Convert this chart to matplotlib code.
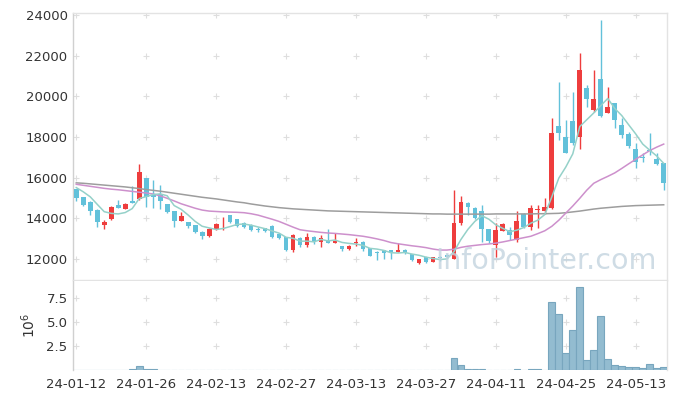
import numpy as np
import pandas as pd
import matplotlib
matplotlib.use("Agg")
import matplotlib.pyplot as plt

# trading days, 24-01-12 .. 24-05-20
dates = [
    "24-01-12",
    "24-01-15", "24-01-16", "24-01-17", "24-01-18", "24-01-19",
    "24-01-22", "24-01-23", "24-01-24", "24-01-25", "24-01-26",
    "24-01-29", "24-01-30", "24-01-31", "24-02-01", "24-02-02",
    "24-02-05", "24-02-06", "24-02-07", "24-02-08",
    "24-02-13", "24-02-14", "24-02-15", "24-02-16",
    "24-02-19", "24-02-20", "24-02-21", "24-02-22", "24-02-23",
    "24-02-26", "24-02-27", "24-02-28", "24-02-29",
    "24-03-04", "24-03-05", "24-03-06", "24-03-07", "24-03-08",
    "24-03-11", "24-03-12", "24-03-13", "24-03-14", "24-03-15",
    "24-03-18", "24-03-19", "24-03-20", "24-03-21", "24-03-22",
    "24-03-25", "24-03-26", "24-03-27", "24-03-28", "24-03-29",
    "24-04-01", "24-04-02", "24-04-03", "24-04-04", "24-04-05",
    "24-04-08", "24-04-09", "24-04-11", "24-04-12",
    "24-04-15", "24-04-16", "24-04-17", "24-04-18", "24-04-19",
    "24-04-22", "24-04-23", "24-04-24", "24-04-25", "24-04-26",
    "24-04-29", "24-04-30", "24-05-02", "24-05-03",
    "24-05-07", "24-05-08", "24-05-09", "24-05-10",
    "24-05-13", "24-05-14", "24-05-16", "24-05-17", "24-05-20",
]

opens = [15420, 15020, 14820, 14400, 13640, 13950, 14650, 14460, 14870, 14930,
         15990, 15150, 15180, 14700, 14330, 13870, 13800, 13670, 13340, 13100,
         13460, 13840, 14160, 13970, 13750, 13670, 13480, 13520, 13620, 13230,
         13070, 12410, 13000, 12660, 13070, 12850, 12930, 12800, 12640, 12480,
         12770, 12850, 12520, 12330, 12440, 12440, 12330, 12440, 12250, 11790,
         12080, 11850, 12080, 12200, 12000, 13750, 14770, 14490, 14330, 13475,
         12690, 13390, 13430, 12930, 14210, 13560, 14380, 14330, 14490, 18540,
         18020, 18800, 18020, 20390, 19330, 20840, 19200, 19660, 18590, 18150,
         17390, 17000, 17360, 16900, 16700]
highs = [15450, 15050, 14850, 14450, 13920, 14600, 14900, 14740, 15600, 16660,
         16000, 15880, 15640, 14720, 14330, 14300, 13810, 13680, 13350, 13510,
         13750, 14080, 14170, 13980, 13800, 13700, 13560, 13540, 13650, 13260,
         13080, 13230, 13070, 13260, 13130, 13180, 13460, 13280, 12650, 12690,
         13020, 12900, 12530, 12360, 12440, 12450, 12770, 12460, 12260, 12000,
         12100, 12090, 12150, 12230, 15390, 15070, 14800, 14560, 14660, 13480,
         13750, 13750, 13590, 14330, 14250, 14660, 14660, 14980, 18920, 20720,
         18840, 20230, 22120, 20560, 21300, 23750, 20480, 19660, 18920, 18260,
         17720, 17200, 18180, 17200, 16720]
lows = [14850, 14580, 14160, 13590, 13480, 13920, 14490, 14430, 14740, 14900,
        14570, 14520, 14460, 14280, 13560, 13860, 13540, 13290, 12980, 13050,
        13430, 13430, 13760, 13560, 13500, 13380, 13330, 13300, 13000, 12990,
        12360, 12310, 12600, 12600, 12740, 12600, 12780, 12790, 12360, 12430,
        12610, 12360, 12130, 11950, 11990, 11990, 12320, 12260, 11900, 11760,
        11800, 11840, 11900, 12050, 11980, 13670, 14160, 13950, 12850, 12770,
        12080, 13350, 12930, 12850, 13500, 13430, 13500, 14210, 14440, 17850,
        17200, 17600, 17390, 19490, 19250, 19000, 19160, 18430, 17930, 17440,
        16460, 16790, 17100, 16620, 15390]
closes = [14980, 14660, 14360, 13800, 13800, 14570, 14520, 14700, 14770, 16280,
          15050, 15020, 14870, 14300, 13870, 14115, 13620, 13310, 13100, 13460,
          13720, 13870, 13790, 13620, 13560, 13430, 13440, 13360, 13070, 13020,
          12410, 13180, 12660, 13070, 12850, 13020, 12800, 12880, 12480, 12610,
          12850, 12480, 12150, 12300, 12280, 12280, 12410, 12280, 11920, 11980,
          11820, 12070, 12020, 12080, 13750, 14820, 14570, 14000, 13460, 12900,
          13430, 13700, 13180, 13840, 13560, 14490, 14440, 14570, 18180, 18180,
          17230, 17690, 21300, 19850, 19850, 19030, 19460, 18840, 18100, 17560,
          16790, 16970, 17330, 16670, 15750]
# closes of the 4 sessions before the window (needed for the 5-day average)
prior_closes = [15700, 15600, 15650, 15610]

ma20 = [15670, 15620, 15570, 15520, 15470, 15430, 15400, 15360, 15320, 15280,
        15240, 15190, 15100, 14980, 14850, 14710, 14600, 14490, 14400, 14350,
        14330, 14310, 14300, 14290, 14270, 14220, 14150, 14050, 13950, 13840,
        13700, 13560, 13430, 13380, 13340, 13300, 13270, 13250, 13220, 13190,
        13150, 13110, 13050, 12980, 12900, 12800, 12740, 12690, 12640, 12600,
        12550, 12480, 12430, 12430, 12470, 12560, 12620, 12660, 12700, 12730,
        12770, 12830, 12900, 12970, 13040, 13110, 13240, 13380, 13600, 13900,
        14250, 14600, 14980, 15380, 15720, 15900, 16060, 16230, 16450, 16680,
        16900, 17120, 17330, 17500, 17650]
ma120 = [15740, 15720, 15690, 15660, 15630, 15600, 15570, 15540, 15500, 15460,
         15410, 15370, 15330, 15280, 15230, 15180, 15130, 15080, 15030, 14990,
         14950, 14900, 14850, 14800, 14760, 14700, 14650, 14600, 14560, 14520,
         14490, 14460, 14440, 14420, 14400, 14380, 14360, 14350, 14340, 14330,
         14320, 14310, 14300, 14290, 14280, 14270, 14260, 14250, 14240, 14230,
         14220, 14210, 14210, 14200, 14200, 14200, 14200, 14200, 14200, 14200,
         14210, 14210, 14210, 14210, 14210, 14210, 14220, 14220, 14230, 14240,
         14270, 14310, 14350, 14400, 14450, 14490, 14520, 14550, 14580, 14600,
         14620, 14630, 14640, 14650, 14660]

# volume in millions of shares
volume = [0, 0, 0, 0, 0, 0, 0, 0, 0.12, 0.45,
          0.12, 0.12, 0, 0, 0, 0, 0, 0, 0, 0,
          0, 0, 0, 0, 0, 0, 0, 0, 0, 0,
          0, 0, 0, 0, 0, 0, 0, 0, 0, 0,
          0, 0, 0, 0, 0, 0, 0, 0, 0, 0,
          0, 0, 0, 0, 1.26, 0.50, 0.11, 0.11, 0.11, 0,
          0, 0, 0, 0.10, 0, 0.10, 0.10, 0, 7.09, 5.83,
          1.73, 4.21, 8.71, 1.08, 2.05, 5.68, 1.15, 0.54, 0.43, 0.29,
          0.29, 0.18, 0.61, 0.22, 0.29]

UP = "#ee3d3d"
DOWN = "#62c1da"
GRID = "#dedede"
SPINE = "#e3e3e3"

plt.rcParams["font.family"] = ["DejaVu Sans"]

o = np.array(opens, float)
h = np.array(highs, float)
l = np.array(lows, float)
c = np.array(closes, float)
x = np.arange(len(c))
ma5 = pd.Series(prior_closes + closes).rolling(5).mean().to_numpy()[len(prior_closes):]

fig = plt.figure(figsize=(6.77, 3.99), dpi=100)
ax = fig.add_axes([0.108, 0.298, 0.877, 0.669])
axv = fig.add_axes([0.108, 0.073, 0.877, 0.222], sharex=ax)

up = c >= o
colors = np.where(up, UP, DOWN)

# wicks then bodies
ax.vlines(x, l, h, colors=colors, linewidth=1.0, zorder=3)
body_lo = np.minimum(o, c)
body_h = np.maximum(np.abs(c - o), 40)
ax.bar(x, body_h, bottom=body_lo, width=0.68, color=colors, linewidth=0, zorder=4)

ax.plot(x, ma120, color="#9d9d9d", linewidth=1.1, zorder=5)
ax.plot(x, ma20, color="#cd90cc", linewidth=1.1, zorder=5)
ax.plot(x, ma5, color="#95d1c9", linewidth=1.1, zorder=5)

ax.set_xlim(-0.45, len(c) - 0.55)
ax.set_ylim(10950, 24100)
yt = np.arange(12000, 24001, 2000)
ax.set_yticks(yt)
ax.set_yticklabels([f"{v}" for v in yt])

xt = x[::10]
axv.set_xticks(xt)
axv.set_xticklabels([dates[i] for i in xt])
plt.setp(ax.get_xticklabels(), visible=False)

# "+" grid marks
gx, gy = np.meshgrid(xt, yt)
ax.plot(gx.ravel(), gy.ravel(), "+", color=GRID, markersize=4.5, markeredgewidth=0.8, zorder=1)

# volume
axv.bar(x, volume, width=0.95, color="#93bcd0", edgecolor="#78a6be", linewidth=0.8, zorder=3)
axv.set_ylim(0, 9.3)
vt = [2.5, 5.0, 7.5]
axv.set_yticks(vt)
axv.set_yticklabels([f"{v:.1f}" for v in vt])
gx, gy = np.meshgrid(xt, vt)
axv.plot(gx.ravel(), gy.ravel(), "+", color=GRID, markersize=4.5, markeredgewidth=0.8, zorder=1)
axv.set_ylabel("10$^6$", fontsize=10, color="#333333", labelpad=6)

for a in (ax, axv):
    a.tick_params(length=0, labelsize=9.5, colors="#333333", pad=4)
    for s in a.spines.values():
        s.set_color(SPINE)
        s.set_linewidth(1.0)
    a.spines["left"].set_color("#d0d0d0")
axv.spines["bottom"].set_visible(False)
axv.spines["top"].set_visible(False)
axv.tick_params(axis="x", pad=6)

# watermark
ax.text(0.983, 0.02, "InfoPointer.com", transform=ax.transAxes, ha="right", va="bottom",
        fontsize=20.5, color="#c3d4df", alpha=0.8, zorder=6)

fig.savefig("out.png", dpi=100, facecolor="white")
